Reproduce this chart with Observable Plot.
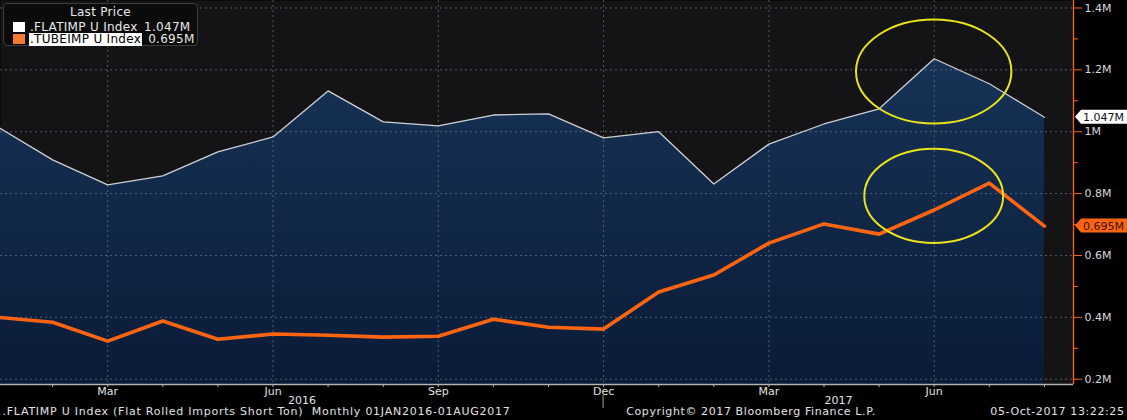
<!DOCTYPE html>
<html><head><meta charset="utf-8">
<script src="https://cdn.jsdelivr.net/npm/d3@7"></script>
<script src="https://cdn.jsdelivr.net/npm/@observablehq/plot@0.6"></script>
<style>
html,body{margin:0;padding:0;background:#000;}
#wrap{position:relative;width:1127px;height:420px;overflow:hidden;font-family:"DejaVu Sans",sans-serif;}
#legend{position:absolute;left:3px;top:3px;width:195px;height:43px;background:#0b0b0c;border:1px solid #3c3c3c;border-radius:4px;box-sizing:border-box;color:#e8e8e8;font-size:12px;letter-spacing:0.3px;}
#legend .hd{position:absolute;left:0;width:100%;top:1px;text-align:center;line-height:14px;}
#legend .row{position:absolute;left:9px;height:13px;line-height:13px;white-space:nowrap;}
#legend .sw{display:inline-block;width:12px;height:10px;vertical-align:-1px;margin-right:4px;}
#legend .nm{display:inline-block;width:114px;padding-left:1px;}
#legend .sel{background:#fff;color:#000;width:auto;padding:0 1px;margin-right:6px;}
</style></head>
<body><div id="wrap"></div>
<script>
// ---- data ----
const months = ["Jan 2016","Feb 2016","Mar 2016","Apr 2016","May 2016","Jun 2016","Jul 2016","Aug 2016","Sep 2016","Oct 2016","Nov 2016","Dec 2016","Jan 2017","Feb 2017","Mar 2017","Apr 2017","May 2017","Jun 2017","Jul 2017","Aug 2017"];
const flatImports = [1.016,0.909,0.828,0.857,0.935,0.983,1.132,1.032,1.019,1.054,1.058,0.980,1.000,0.831,0.960,1.025,1.074,1.236,1.155,1.047];
const tubeImports = [0.400,0.384,0.323,0.388,0.329,0.346,0.342,0.336,0.339,0.394,0.368,0.362,0.482,0.537,0.640,0.702,0.669,0.747,0.834,0.695];
const seriesNames = [".FLATIMP U Index", ".TUBEIMP U Index"];
const lastValues = ["1.047M", "0.695M"];
const yTicks = [0.2,0.4,0.6,0.8,1.0,1.2,1.4];
const yMinorTicks = [0.3,0.5,0.7,0.9,1.1,1.3];
const yTickLabels = ["0.2M","0.4M","0.6M","0.8M","1M","1.2M","1.4M"];
const quarterLabels = ["Mar","Jun","Sep","Dec","Mar","Jun"];
const quarterMonths = ["Mar 2016","Jun 2016","Sep 2016","Dec 2016","Mar 2017","Jun 2017"];
const yearLabels = ["2016","2017"];
const highlightMonths = ["Jun 2017","Jun 2017"];
const highlightValues = [1.193,0.791];
const footerLeft = ".FLATIMP U Index (Flat Rolled Imports Short Ton)  Monthly 01JAN2016-01AUG2017";
const footerMid = "Copyright\u00a9 2017 Bloomberg Finance L.P.";
const footerRight = "05-Oct-2017 13:22:25";

// ---- derived table ----
const idx = m => months.indexOf(m);
const data = months.map((m,i) => ({m: i, label: m, flat: flatImports[i], tube: tubeImports[i]}));
const xDomain = [0.0544, 19.528];
const yDomain = [0.1829, 1.4242];
const yearBoundary = idx("Dec 2016");
const yearCenters = [(xDomain[0]+yearBoundary)/2, (yearBoundary+xDomain[1])/2];

const ORANGE = "#ff6410", WHITE = "#cfcfcf", YELLOW = "#e9e31c";

const defs = () => {
  const g = d3.create("svg:defs");
  const lg = g.append("linearGradient").attr("id","areaGrad").attr("gradientUnits","userSpaceOnUse")
    .attr("x1",0).attr("x2",0).attr("y1",0).attr("y2",384);
  lg.append("stop").attr("offset","0%").attr("stop-color","#19375c");
  lg.append("stop").attr("offset","100%").attr("stop-color","#0a1b37");
  return g.node();
};

const ellipses = (index, scales) => {
  const g = d3.create("svg:g").attr("fill","none").attr("stroke",YELLOW).attr("stroke-width",2);
  const rx = [1.41, 1.26], ry = [0.168, 0.152];
  highlightMonths.forEach((m,i) => {
    const cx = scales.x(idx(m)), cy = scales.y(highlightValues[i]);
    g.append("ellipse").attr("cx",cx).attr("cy",cy)
      .attr("rx", Math.abs(scales.x(idx(m)+rx[i]) - cx))
      .attr("ry", Math.abs(scales.y(highlightValues[i]+ry[i]) - cy));
  });
  return g.node();
};

const yearTick = (index, scales, values, dims) => {
  const x = scales.x(yearBoundary), yb = dims.height - dims.marginBottom;
  return d3.create("svg:line").attr("x1",x).attr("x2",x).attr("y1",yb+11).attr("y2",yb+24)
    .attr("stroke","#9a9a9a").attr("stroke-width",1).node();
};

const tags = (index, scales, values, dims) => {
  const g = d3.create("svg:g").attr("text-anchor","start");
  const x0 = dims.width - dims.marginRight + 2;
  const specs = [
    {v: flatImports[flatImports.length-1], t: lastValues[0], bg: "#ffffff", fg: "#111"},
    {v: tubeImports[tubeImports.length-1], t: lastValues[1], bg: ORANGE, fg: "#3a1200"}
  ];
  specs.forEach(s => {
    const y = scales.y(s.v), h = 7;
    g.append("path").attr("d", `M${x0},${y}L${x0+6},${y-h}L${dims.width},${y-h}L${dims.width},${y+h}L${x0+6},${y+h}Z`)
      .attr("fill", s.bg);
    g.append("text").attr("x", x0+8).attr("y", y).attr("dy","0.36em").attr("fill", s.fg)
      .attr("text-anchor","start")
      .attr("font-size", 11).attr("font-family","DejaVu Sans, sans-serif").text(s.t);
  });
  return g.node();
};

const gridStyle = {stroke: "#8a8f99", strokeOpacity: 0.55, strokeDasharray: "2,3"};
const footStyle = {fill: "#e2e2e2", fontSize: 11, dy: 30, text: d => d};

const chart = Plot.plot({
  width: 1127, height: 420,
  marginTop: 0, marginBottom: 36, marginLeft: 0, marginRight: 54,
  style: {background: "#000", fontFamily: "DejaVu Sans, sans-serif", fontSize: "11px", color: "#dcdcdc"},
  x: {type: "linear", domain: xDomain, axis: null, label: null},
  y: {type: "linear", domain: yDomain, axis: null, label: null},
  marks: [
    defs,
    Plot.frame({fill: "#141416", stroke: null}),
    Plot.areaY(data, {x: "m", y1: yDomain[0], y2: "flat", fill: "url(#areaGrad)", clip: true}),
    Plot.ruleY(yTicks, {...gridStyle}),
    Plot.ruleX(quarterMonths.map(idx), {...gridStyle}),
    Plot.lineY(data, {x: "m", y: "flat", stroke: WHITE, strokeWidth: 1.3, clip: true}),
    Plot.lineY(data, {x: "m", y: "tube", stroke: ORANGE, strokeWidth: 3.6, clip: true}),
    ellipses,
    // bottom axis
    Plot.ruleY([yDomain[0]], {stroke: "#b4b4b4", strokeWidth: 1.5}),
    Plot.axisX({ticks: months.map((m,i)=>i), tickSize: 3, tickFormat: () => "", stroke: "#b4b4b4", label: null}),
    Plot.axisX({ticks: quarterMonths.map(idx), tickSize: 0, tickPadding: 3, tickFormat: i => quarterLabels[quarterMonths.indexOf(months[i])], fill: "#e2e2e2", fontSize: 11, label: null}),
    yearTick,
    Plot.text(yearLabels, {x: (d,i) => yearCenters[i], frameAnchor: "bottom", dy: 19, text: d => d, fill: "#e2e2e2", fontSize: 11}),
    // right axis
    Plot.ruleX([xDomain[1]], {stroke: ORANGE, strokeWidth: 1.3}),
    Plot.axisY({anchor: "right", ticks: yTicks, tickSize: 8, tickPadding: 3, tickFormat: v => yTickLabels[yTicks.indexOf(v)], stroke: ORANGE, fill: "#d8d8d8", fontSize: 11, label: null}),
    Plot.axisY({anchor: "right", ticks: yMinorTicks, tickSize: 4, tickFormat: () => "", stroke: ORANGE, label: null}),
    tags,
    // footer
    Plot.text([footerLeft], {...footStyle, frameAnchor: "bottom-left", dx: 2, textAnchor: "start"}),
    Plot.text([footerMid], {...footStyle, frameAnchor: "bottom", dx: 214}),
    Plot.text([footerRight], {...footStyle, frameAnchor: "bottom-right", dx: 51, textAnchor: "end"})
  ]
});

// widen footer lettering to match the Bloomberg terminal font
d3.select(chart).selectAll("text").each(function() {
  const t = this.textContent;
  if (t === footerLeft) this.style.letterSpacing = "0.75px";
  else if (t === footerMid || t === footerRight) this.style.letterSpacing = "0.6px";
});

const wrap = document.getElementById("wrap");
wrap.appendChild(chart);
const legend = document.createElement("div");
legend.id = "legend";
legend.innerHTML = `<div class="hd">Last Price</div>
<div class="row" style="top:17px"><span class="sw" style="background:#ffffff"></span><span class="nm">${seriesNames[0]}</span>${lastValues[0]}</div>
<div class="row" style="top:29px"><span class="sw" style="background:#f47a32"></span><span class="nm sel">${seriesNames[1]}</span>${lastValues[1]}</div>`;
wrap.appendChild(legend);
</script>
</body></html>
